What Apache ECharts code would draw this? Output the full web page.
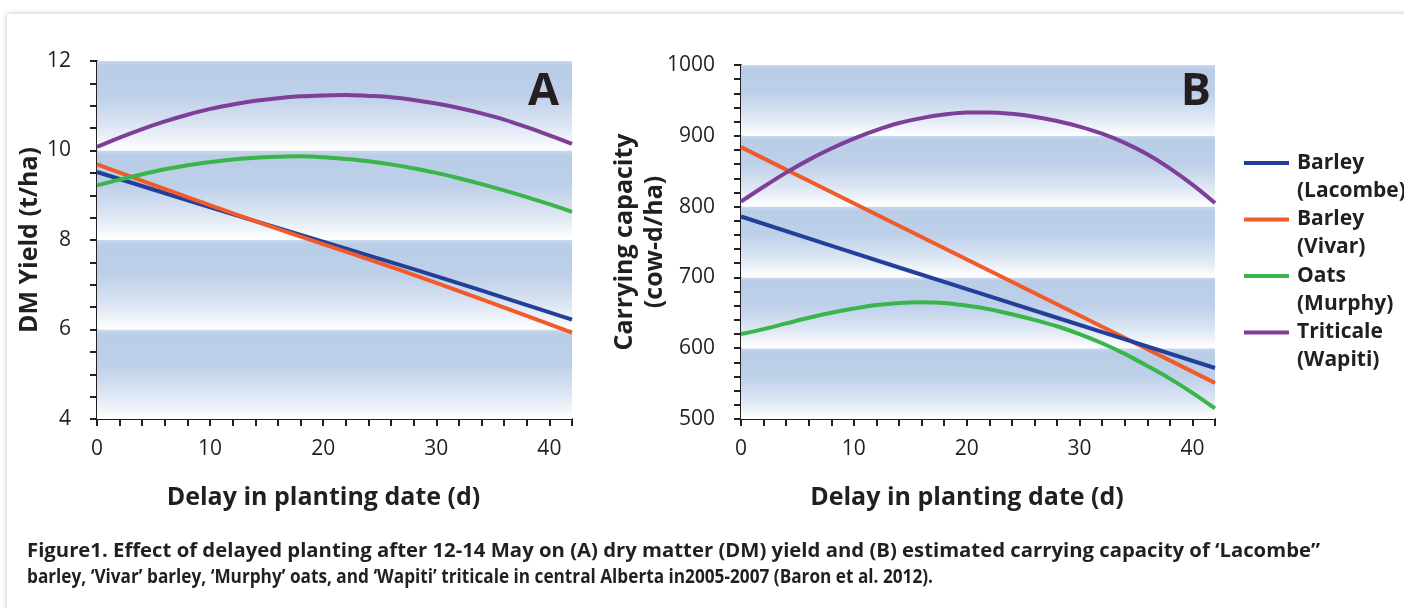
<!DOCTYPE html>
<html><head><meta charset="utf-8">
<script src="https://cdn.jsdelivr.net/npm/echarts@6/dist/echarts.min.js"></script>
<style>html,body{margin:0;padding:0;background:#fff}#c{width:1404px;height:608px}</style>
</head><body><div id="c"></div>
<script>
// ---- data ----
const days = [0,2,4,6,8,10,12,14,16,18,20,22,24,26,28,30,32,34,36,38,40,42];
const lineDays = [0,14,28,42];
const xTickLabels = [0,10,20,30,40];
const yTicksA = [4,6,8,10,12];
const yTicksB = [500,600,700,800,900,1000];
const seriesNames = ['Barley (Lacombe)','Barley (Vivar)','Oats (Murphy)','Triticale (Wapiti)'];
const legendLabels = [['Barley','(Lacombe)'],['Barley','(Vivar)'],['Oats','(Murphy)'],['Triticale','(Wapiti)']];
const panelLetters = ['A','B'];
const xTitle = 'Delay in planting date (d)';
const yTitleA = 'DM Yield (t/ha)';
const yTitleB = 'Carrying capacity\n(cow-d/ha)';

// Panel A: DM yield (t/ha)
const yieldLacombe = [9.52, 8.42, 7.35, 6.22];            // at lineDays
const yieldVivar   = [9.69, 8.42, 7.22, 5.93];            // at lineDays
const yieldMurphy  = [9.22,9.35,9.47,9.58,9.67,9.74,9.80,9.84,9.86,9.87,9.85,9.81,9.76,9.69,9.60,9.50,9.38,9.25,9.11,8.96,8.80,8.63];
const yieldWapiti  = [10.08,10.29,10.48,10.65,10.80,10.93,11.03,11.11,11.17,11.21,11.23,11.24,11.22,11.19,11.13,11.05,10.95,10.83,10.69,10.52,10.34,10.15];

// Panel B: carrying capacity (cow-d/ha)
const capLacombe = [786, 714, 643, 572];                  // at lineDays
const capVivar   = [884, 773, 662, 551];                  // at lineDays
const capMurphy  = [620,627,635,643,650,656,661,664,665,664,660,655,648,640,631,620,607,592,575,557,537,515];
const capWapiti  = [807,828,848,866,882,896,908,918,925,930,933,933,931,927,921,913,903,890,874,854,831,805];

const captionLines = [
  'Figure1. Effect of delayed planting after 12-14 May on (A) dry matter (DM) yield and (B) estimated carrying capacity of \u2018Lacombe\u201d',
  'barley, \u2018Vivar\u2019 barley, \u2018Murphy\u2019 oats, and \u2018Wapiti\u2019 triticale in central Alberta in2005-2007 (Baron et al. 2012).'
];

// ---- styling ----
const colors = ['#22409a','#f15a29','#3ab54a','#7e3f98'];
const ink = '#231f20';
const FONT = 'Open Sans';

function pairs(xs, ys){ return xs.map((x,i)=>[x, ys[i]]); }
function bandGradient(){
  return new echarts.graphic.LinearGradient(0,0,0,1,[
    {offset:0, color:'#c9d8ed'},
    {offset:0.06, color:'#b9cde7'},
    {offset:0.40, color:'#bed0e9'},
    {offset:0.75, color:'#dfe8f4'},
    {offset:1, color:'#ffffff'}
  ]);
}
function bands(ticks){
  const d = [];
  for (let i=0;i<ticks.length-1;i++){
    d.push([{yAxis:ticks[i+1], itemStyle:{color:bandGradient()}},{yAxis:ticks[i]}]);
  }
  return d;
}
function measure(text, font){
  const c = document.createElement('canvas').getContext('2d');
  c.font = font; return c.measureText(text).width;
}

function xAxisOpt(gi){
  return {
    type:'value', gridIndex:gi, min:0, max:42, interval:2,
    axisLine:{show:true, onZero:false, lineStyle:{color:ink, width:2}},
    axisTick:{show:true, length:7, lineStyle:{color:ink, width:2}},
    axisLabel:{formatter:v => xTickLabels.includes(v) ? String(v) : '', margin:20, fontSize:21, color:ink, fontFamily:FONT},
    splitLine:{show:false},
    name:xTitle, nameLocation:'middle', nameGap:66,
    nameTextStyle:{fontSize:25, fontWeight:'bold', color:ink, fontFamily:FONT, padding:[0,22,0,0]}
  };
}
function yAxisOpt(gi, ticks, split, name, gap){
  return {
    type:'value', gridIndex:gi, min:ticks[0], max:ticks[ticks.length-1], interval:ticks[1]-ticks[0],
    axisLine:{show:true, onZero:false, lineStyle:{color:ink, width:2}},
    axisTick:{show:true, length:7, lineStyle:{color:ink, width:2}},
    minorTick:{show:true, splitNumber:split, length:7, lineStyle:{color:ink, width:2}},
    axisLabel:{formatter:v => String(v), margin:26, fontSize:21, color:ink, fontFamily:FONT},
    splitLine:{show:false}, minorSplitLine:{show:false},
    name:name, nameLocation:'middle', nameGap:gap, nameMoveOverlap:false,
    nameTextStyle:{fontSize:25, fontWeight:'bold', color:ink, fontFamily:FONT, lineHeight:30, align:'center'}
  };
}
function lineSeries(gi, idx, data){
  return {type:'line', name:seriesNames[idx], xAxisIndex:gi, yAxisIndex:gi, data:data,
    smooth:0.35, showSymbol:false, silent:true, z:3,
    lineStyle:{width:4, color:colors[idx]}, itemStyle:{color:colors[idx]}};
}

const graphics = [];
graphics.push({type:'rect', z:-10, silent:true, shape:{x:7,y:14,width:1420,height:620},
  style:{fill:'#fff', shadowBlur:5, shadowColor:'rgba(0,0,0,0.28)'}});
// panel letters
graphics.push({type:'text', x:559, y:92, z:10, style:{text:panelLetters[0], font:'bold 45px "'+FONT+'"', fill:ink, align:'right', verticalAlign:'middle'}});
graphics.push({type:'text', x:1211, y:92, z:10, style:{text:panelLetters[1], font:'bold 45px "'+FONT+'"', fill:ink, align:'right', verticalAlign:'middle'}});
// legend
legendLabels.forEach((lab,i)=>{
  const y = 163 + i*56.5;
  graphics.push({type:'line', z:10, shape:{x1:1244,y1:y,x2:1289,y2:y}, style:{stroke:colors[i], lineWidth:4}});
  graphics.push({type:'text', x:1297, y:y, z:10, style:{text:lab[0], font:'bold 21px "'+FONT+'"', fill:ink, verticalAlign:'middle'}});
  graphics.push({type:'text', x:1297, y:y+28, z:10, style:{text:lab[1], font:'bold 21px "'+FONT+'"', fill:ink, verticalAlign:'middle'}});
});
// caption
const capFont = 'bold 19px "'+FONT+'"';
const capTargets = [1293, 906];
captionLines.forEach((t,i)=>{
  const s = capTargets[i]/measure(t, capFont);
  graphics.push({type:'text', x:27, y:552 + i*26, scaleX:s, z:10, style:{text:t, font:capFont, fill:ink, verticalAlign:'middle'}});
});

const chart = echarts.init(document.getElementById('c'), null, {renderer:'canvas'});
chart.setOption({
  backgroundColor:'#ffffff',
  animation:false,
  grid:[{left:97, top:61, width:475, height:358}, {left:741, top:65, width:474, height:354}],
  xAxis:[xAxisOpt(0), xAxisOpt(1)],
  yAxis:[yAxisOpt(0, yTicksA, 4, yTitleA, 52), yAxisOpt(1, yTicksB, 5, yTitleB, 71)],
  series:[
    {type:'line', xAxisIndex:0, yAxisIndex:0, data:[], z:1, silent:true,
      markArea:{silent:true, data:bands(yTicksA)}},
    {type:'line', xAxisIndex:1, yAxisIndex:1, data:[], z:1, silent:true,
      markArea:{silent:true, data:bands(yTicksB)}},
    lineSeries(0,0,pairs(lineDays, yieldLacombe)),
    lineSeries(0,1,pairs(lineDays, yieldVivar)),
    lineSeries(0,2,pairs(days, yieldMurphy)),
    lineSeries(0,3,pairs(days, yieldWapiti)),
    lineSeries(1,1,pairs(lineDays, capVivar)),
    lineSeries(1,0,pairs(lineDays, capLacombe)),
    lineSeries(1,2,pairs(days, capMurphy)),
    lineSeries(1,3,pairs(days, capWapiti))
  ],
  graphic:{elements:graphics}
});
</script></body></html>
